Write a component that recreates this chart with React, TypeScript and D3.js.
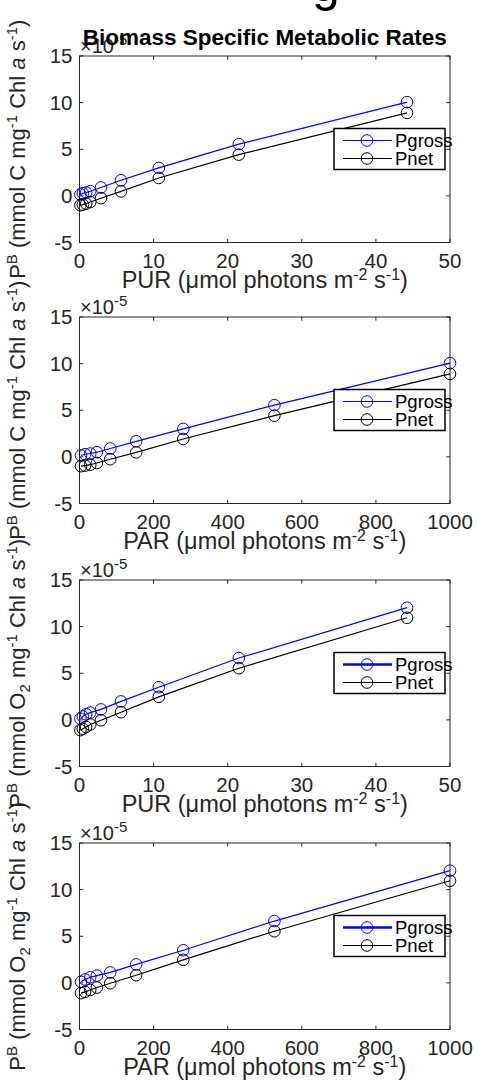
import React from "react";
import * as d3 from "d3";

// ---- data (values in units of 1e-5) ----
const PUR = [0.12, 0.45, 0.9, 1.45, 2.9, 5.6, 10.7, 21.5, 44.2];
const PAR = [4, 15, 29, 47, 83, 153, 280, 526, 1000];
const grossC = [0.15, 0.28, 0.36, 0.5, 0.9, 1.67, 3.0, 5.55, 10.05];
const netC = [-1.0, -0.93, -0.84, -0.66, -0.25, 0.48, 1.92, 4.42, 8.9];
const grossO2 = [0.12, 0.36, 0.6, 0.78, 1.12, 1.98, 3.5, 6.63, 12.03];
const netO2 = [-1.1, -0.96, -0.76, -0.5, -0.04, 0.82, 2.47, 5.54, 10.95];
const purTicks = [0, 10, 20, 30, 40, 50];
const parTicks = [0, 200, 400, 600, 800, 1000];
const yTicks = [-5, 0, 5, 10, 15];
const seriesNames = ["Pgross", "Pnet"];
const seriesColors = ["#0000ff", "#000000"];

const FONT = "'Liberation Sans', Arial, Helvetica, sans-serif";
const AX = "#262626";
const L = 79.5;
const R = 450;
const H = 186.5;

type PanelProps = {
  top: number;
  xs: number[];
  gross: number[];
  net: number[];
  xMax: number;
  xTicks: number[];
  xName: string;
  o2: boolean;
  thickLegend: boolean;
};

function YLabel({ cy, o2 }: { cy: number; o2: boolean }) {
  return (
    <text
      transform={`translate(25,${cy}) rotate(-90)`}
      textAnchor="middle"
      fontFamily={FONT}
      fontSize={22}
      fill={AX}
    >
      <tspan>P</tspan>
      <tspan dy={-8} fontSize={15}>B</tspan>
      <tspan dy={8}>{o2 ? " (mmol O" : " (mmol C mg"}</tspan>
      {o2 ? (
        <>
          <tspan dy={5} fontSize={15}>2</tspan>
          <tspan dy={-5}> mg</tspan>
        </>
      ) : null}
      <tspan dy={-8} fontSize={15}>-1</tspan>
      <tspan dy={8}> Chl </tspan>
      <tspan fontStyle="italic">a</tspan>
      <tspan> s</tspan>
      <tspan dy={-8} fontSize={15}>-1</tspan>
      <tspan dy={8}>)</tspan>
    </text>
  );
}

function Panel({ top, xs, gross, net, xMax, xTicks, xName, o2, thickLegend }: PanelProps) {
  const x = d3.scaleLinear().domain([0, xMax]).range([L, R]);
  const y = d3.scaleLinear().domain([-5, 15]).range([top + H, top]);
  const line = d3
    .line<number>()
    .x((_, i) => x(xs[i]))
    .y((d) => y(d));
  const series = [gross, net];
  const tl = 3.7;
  const lgL = 334;
  const lgT = top + 72.5;
  return (
    <g>
      <YLabel cy={top + H / 2} o2={o2} />
      {/* axes box */}
      <rect x={L} y={top} width={R - L} height={H} fill="white" stroke={AX} strokeWidth={1} />
      {xTicks.map((t) => (
        <g key={"x" + t}>
          <line x1={x(t)} x2={x(t)} y1={top + H} y2={top + H - tl} stroke={AX} />
          <line x1={x(t)} x2={x(t)} y1={top} y2={top + tl} stroke={AX} />
          <text x={x(t)} y={top + H + 25} textAnchor="middle" fontFamily={FONT} fontSize={20.5} fill={AX}>
            {t}
          </text>
        </g>
      ))}
      {yTicks.map((t) => (
        <g key={"y" + t}>
          <line x1={L} x2={L + tl} y1={y(t)} y2={y(t)} stroke={AX} />
          <line x1={R} x2={R - tl} y1={y(t)} y2={y(t)} stroke={AX} />
          <text x={L - 7} y={y(t) + 7} textAnchor="end" fontFamily={FONT} fontSize={20.5} fill={AX}>
            {t}
          </text>
        </g>
      ))}
      <text x={80} y={top - 3} fontFamily={FONT} fontSize={20} fill={AX}>
        ×10<tspan dy={-8} fontSize={15}>-5</tspan>
      </text>
      {series.map((s, k) => (
        <g key={"s" + k}>
          <path d={line(s) || ""} fill="none" stroke={seriesColors[k]} strokeWidth={1.2} />
          {s.map((v, i) => (
            <circle key={i} cx={x(xs[i])} cy={y(v)} r={5.8} fill="none" stroke={seriesColors[k]} strokeWidth={1} />
          ))}
        </g>
      ))}
      {/* legend */}
      <rect x={lgL} y={lgT} width={111} height={41} fill="white" stroke="#000" strokeWidth={1.5} />
      {seriesNames.map((n, k) => {
        const ry = lgT + 12 + k * 18;
        return (
          <g key={n}>
            <line
              x1={lgL + 9}
              x2={lgL + 58}
              y1={ry}
              y2={ry}
              stroke={seriesColors[k]}
              strokeWidth={thickLegend && k === 0 ? 2.5 : 1.2}
            />
            <circle cx={lgL + 33} cy={ry} r={5.8} fill="none" stroke={seriesColors[k]} strokeWidth={1} />
            <text x={lgL + 61} y={ry + 6.5} fontFamily={FONT} fontSize={18.5} fill="#000">
              {n}
            </text>
          </g>
        );
      })}
      {/* x label */}
      <text x={(L + R) / 2} y={top + H + 45} textAnchor="middle" fontFamily={FONT} fontSize={23.5} fill={AX}>
        {xName} (μmol photons m<tspan dy={-8} fontSize={16}>-2</tspan>
        <tspan dy={8}> s</tspan>
        <tspan dy={-8} fontSize={16}>-1</tspan>
        <tspan dy={8}>)</tspan>
      </text>
    </g>
  );
}

export default function App() {
  const tops = [56, 317, 580, 843];
  return (
    <svg
      width={477}
      height={1088}
      style={{ position: "absolute", left: 0, top: 0, background: "white" }}
    >
      <rect x={0} y={0} width={477} height={1088} fill="white" />
      <text x={326} y={1} textAnchor="middle" fontFamily={FONT} fontSize={50} fill="#000">
        g
      </text>
      <Panel top={tops[0]} xs={PUR} gross={grossC} net={netC} xMax={50} xTicks={purTicks} xName="PUR" o2={false} thickLegend={false} />
      <Panel top={tops[1]} xs={PAR} gross={grossC} net={netC} xMax={1000} xTicks={parTicks} xName="PAR" o2={false} thickLegend={false} />
      <Panel top={tops[2]} xs={PUR} gross={grossO2} net={netO2} xMax={50} xTicks={purTicks} xName="PUR" o2={true} thickLegend={true} />
      <Panel top={tops[3]} xs={PAR} gross={grossO2} net={netO2} xMax={1000} xTicks={parTicks} xName="PAR" o2={true} thickLegend={true} />
      <text x={(L + R) / 2} y={45} textAnchor="middle" fontFamily={FONT} fontSize={22.5} fontWeight="bold" fill="#000">
        Biomass Specific Metabolic Rates
      </text>
    </svg>
  );
}
